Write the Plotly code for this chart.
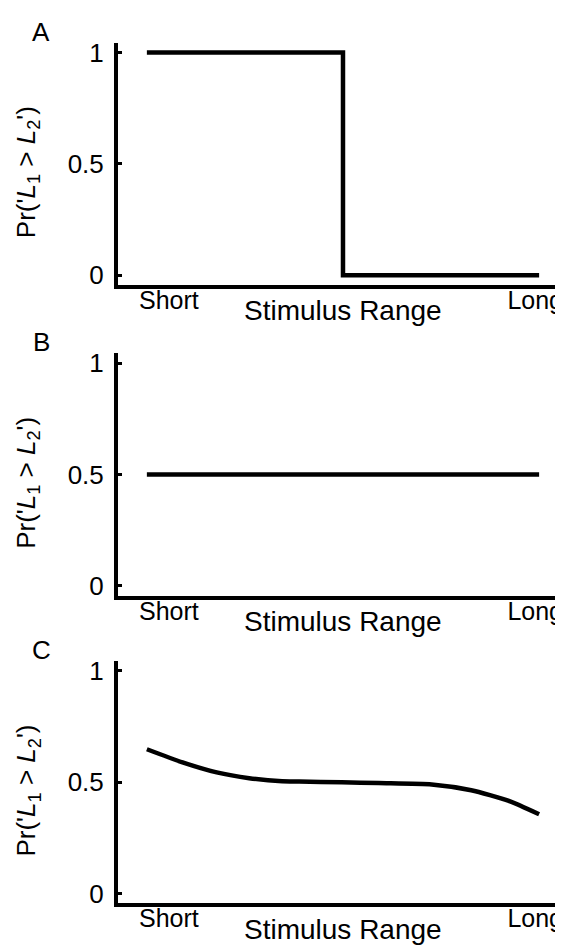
import plotly.graph_objects as go

# ---- data ----
panel_letters = ["A", "B", "C"]
x_ticks = [0.056, 0.99]
x_tick_labels = ["Short", "Long"]
x_title = "Stimulus Range"
y_ticks = [0, 0.5, 1]
y_tick_labels = ["0", "0.5", "1"]

a_x = [0.0, 0.5, 1.0]
a_y = [1.0, 0.0, 0.0]

b_x = [0.0, 1.0]
b_y = [0.5, 0.5]

c_x = [0.0, 0.091, 0.178, 0.261, 0.345, 0.388, 0.497, 0.591, 0.726, 0.827, 0.921, 1.0]
c_y = [0.648, 0.589, 0.544, 0.518, 0.504, 0.503, 0.500, 0.496, 0.490, 0.464, 0.417, 0.356]

# page has an 8px body margin; work in page pixels and subtract it
OFF = 8
W, H = 563 - OFF, 948 - OFF
ML = 118 - OFF
FONT = "Liberation Sans, Arial, sans-serif"

# panel pixel extents in page coords (top, bottom)
panels = [(38, 283), (352, 597), (663, 908)]

fig = go.Figure()
fig.add_trace(go.Scatter(x=a_x, y=a_y, mode="lines", line=dict(color="black", width=4.5, shape="hv"),
                         xaxis="x", yaxis="y", showlegend=False))
fig.add_trace(go.Scatter(x=b_x, y=b_y, mode="lines", line=dict(color="black", width=4.5),
                         xaxis="x2", yaxis="y2", showlegend=False))
fig.add_trace(go.Scatter(x=c_x, y=c_y, mode="lines", line=dict(color="black", width=4.5, shape="spline", smoothing=0.6),
                         xaxis="x3", yaxis="y3", showlegend=False))

layout = dict(width=W, height=H, margin=dict(l=ML, r=0, t=0, b=0),
              paper_bgcolor="white", plot_bgcolor="white",
              font=dict(family=FONT, color="black"), annotations=[])

ylabel = "Pr('<i>L</i><sub>1</sub> &gt; <i>L</i><sub>2</sub>')"


def py(p):
    return 1 - (p - OFF) / H


def px(p):
    return (p - OFF - ML) / (W - ML)


for i, (top, bot) in enumerate(panels):
    sfx = "" if i == 0 else str(i + 1)
    dom = [py(bot), py(top)]
    layout["xaxis" + sfx] = dict(
        domain=[0, 1], anchor="y" + sfx, range=[-0.0736, 1.0558],
        showline=True, linecolor="black", linewidth=4, showgrid=False, zeroline=False,
        tickvals=x_ticks, ticktext=x_tick_labels, ticks="", ticklabeloverflow="allow",
        ticklabelstandoff=-10,
        tickfont=dict(size=25, family=FONT), fixedrange=True,
    )
    layout["yaxis" + sfx] = dict(
        domain=dom, anchor="x" + sfx, range=[-0.044, 1.044],
        showline=True, linecolor="black", linewidth=4, showgrid=False, zeroline=False,
        tickvals=y_ticks, ticktext=y_tick_labels, ticks="inside", ticklen=4, tickwidth=3,
        tickcolor="black", tickfont=dict(size=26, family=FONT), fixedrange=True,
        ticklabelstandoff=5,
    )
    layout["annotations"].append(dict(
        text=x_title, xref="x" + sfx, yref="paper", x=0.5, y=py(bot + 26),
        xanchor="center", yanchor="middle", showarrow=False,
        font=dict(size=28, family=FONT)))
    layout["annotations"].append(dict(
        text=ylabel, textangle=-90, xref="paper", yref="paper",
        x=px(27), y=py((top + bot) / 2 + 8),
        xanchor="center", yanchor="middle", showarrow=False,
        font=dict(size=26, family=FONT)))
    layout["annotations"].append(dict(
        text=panel_letters[i], xref="paper", yref="paper",
        x=px(41), y=py(top - 11),
        xanchor="center", yanchor="middle", showarrow=False,
        font=dict(size=26, family=FONT)))

fig.update_layout(**layout)
fig.write_html("out.html")
